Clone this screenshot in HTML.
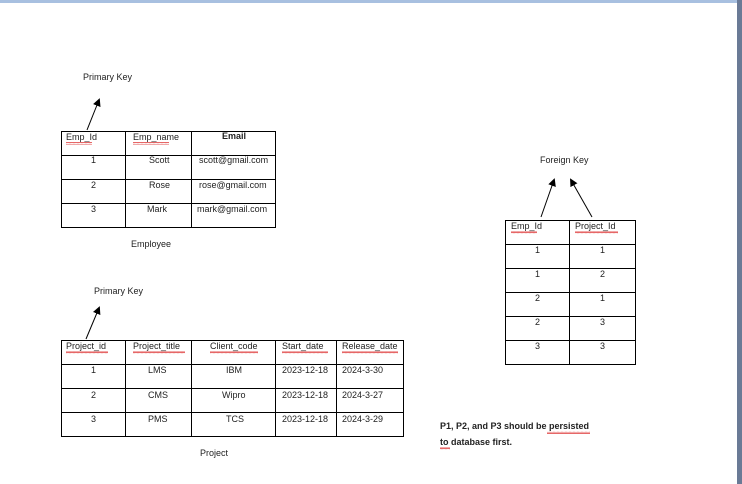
<!DOCTYPE html>
<html><head><style>
html,body{margin:0;padding:0;background:#fff;width:742px;height:484px;overflow:hidden}
svg{display:block}
text{font-family:"Liberation Sans",sans-serif;font-size:9px;fill:#222}
.b{font-weight:bold}
</style></head><body>
<svg width="742" height="484" viewBox="0 0 742 484">
<defs>
<marker id="a" markerWidth="8" markerHeight="8" refX="6" refY="4" orient="auto" markerUnits="userSpaceOnUse"><path d="M0,0 L8,4 L0,8 z" fill="#000"/></marker>
<pattern id="w" width="4" height="3" patternUnits="userSpaceOnUse"><path d="M0,2 L1,0.5 L2,2 L3,0.5 L4,2" stroke="#d33" stroke-width="0.7" fill="none"/></pattern>
</defs>
<rect x="0" y="0" width="742" height="3" fill="#a8c0e0"/>
<rect x="737" y="0" width="5" height="484" fill="#6a7a96"/>
<g stroke="#000" stroke-width="1" fill="none">
<rect x="61.5" y="131.5" width="214" height="96"/>
<path d="M125.5,131v96M191.5,131v96M61,155.5h214M61,179.5h214M61,203.5h214"/>
<rect x="61.5" y="340.5" width="342" height="96"/>
<path d="M125.5,340v96M191.5,340v96M275.5,340v96M336.5,340v96M61,364.5h342M61,388.5h342M61,412.5h342"/>
<rect x="505.5" y="220.5" width="130" height="144"/>
<path d="M569.5,220v144M505,244.5h130M505,268.5h130M505,292.5h130M505,316.5h130M505,340.5h130"/>
<path d="M87,130 L99,100" marker-end="url(#a)"/>
<path d="M86,339 L99,308" marker-end="url(#a)"/>
<path d="M541,217 L554,180" marker-end="url(#a)"/>
<path d="M592,217 L571,180" marker-end="url(#a)"/>
</g>
<text x="83" y="80">Primary Key</text>
<text x="66" y="140">Emp_Id</text><rect x="66" y="142" width="26" height="3" fill="url(#w)"/>
<text x="133" y="140">Emp_name</text><rect x="133" y="142" width="36" height="3" fill="url(#w)"/>
<text x="222" y="139" class="b">Email</text>
<text x="91" y="163">1</text><text x="149" y="163">Scott</text><text x="199" y="163">scott@gmail.com</text>
<text x="91" y="188">2</text><text x="149" y="188">Rose</text><text x="199" y="188">rose@gmail.com</text>
<text x="91" y="212">3</text><text x="147" y="212">Mark</text><text x="197" y="212">mark@gmail.com</text>
<text x="131" y="247">Employee</text>
<text x="94" y="294">Primary Key</text>
<text x="66" y="349">Project_id</text><rect x="66" y="351" width="42" height="3" fill="url(#w)"/>
<text x="133" y="349">Project_title</text><rect x="133" y="351" width="52" height="3" fill="url(#w)"/>
<text x="210" y="349">Client_code</text><rect x="210" y="351" width="48" height="3" fill="url(#w)"/>
<text x="282" y="349">Start_date</text><rect x="282" y="351" width="46" height="3" fill="url(#w)"/>
<text x="342" y="349">Release_date</text><rect x="342" y="351" width="56" height="3" fill="url(#w)"/>
<text x="91" y="373">1</text><text x="148" y="373">LMS</text><text x="226" y="373">IBM</text><text x="282" y="373">2023-12-18</text><text x="342" y="373">2024-3-30</text>
<text x="91" y="398">2</text><text x="148" y="398">CMS</text><text x="222" y="398">Wipro</text><text x="282" y="398">2023-12-18</text><text x="342" y="398">2024-3-27</text>
<text x="91" y="422">3</text><text x="148" y="422">PMS</text><text x="226" y="422">TCS</text><text x="282" y="422">2023-12-18</text><text x="342" y="422">2024-3-29</text>
<text x="200" y="456">Project</text>
<text x="540" y="163">Foreign Key</text>
<text x="511" y="229">Emp_Id</text><rect x="511" y="231" width="26" height="3" fill="url(#w)"/>
<text x="575" y="229">Project_Id</text><rect x="575" y="231" width="43" height="3" fill="url(#w)"/>
<text x="535" y="253">1</text><text x="600" y="253">1</text>
<text x="535" y="277">1</text><text x="600" y="277">2</text>
<text x="535" y="301">2</text><text x="600" y="301">1</text>
<text x="535" y="325">2</text><text x="600" y="325">3</text>
<text x="535" y="349">3</text><text x="600" y="349">3</text>
<text x="440" y="429" class="b">P1, P2, and P3 should  be persisted</text><rect x="547" y="431" width="43" height="3" fill="url(#w)"/>
<text x="440" y="445" class="b">to database first.</text><rect x="440" y="447" width="10" height="3" fill="url(#w)"/>
</svg>
</body></html>
